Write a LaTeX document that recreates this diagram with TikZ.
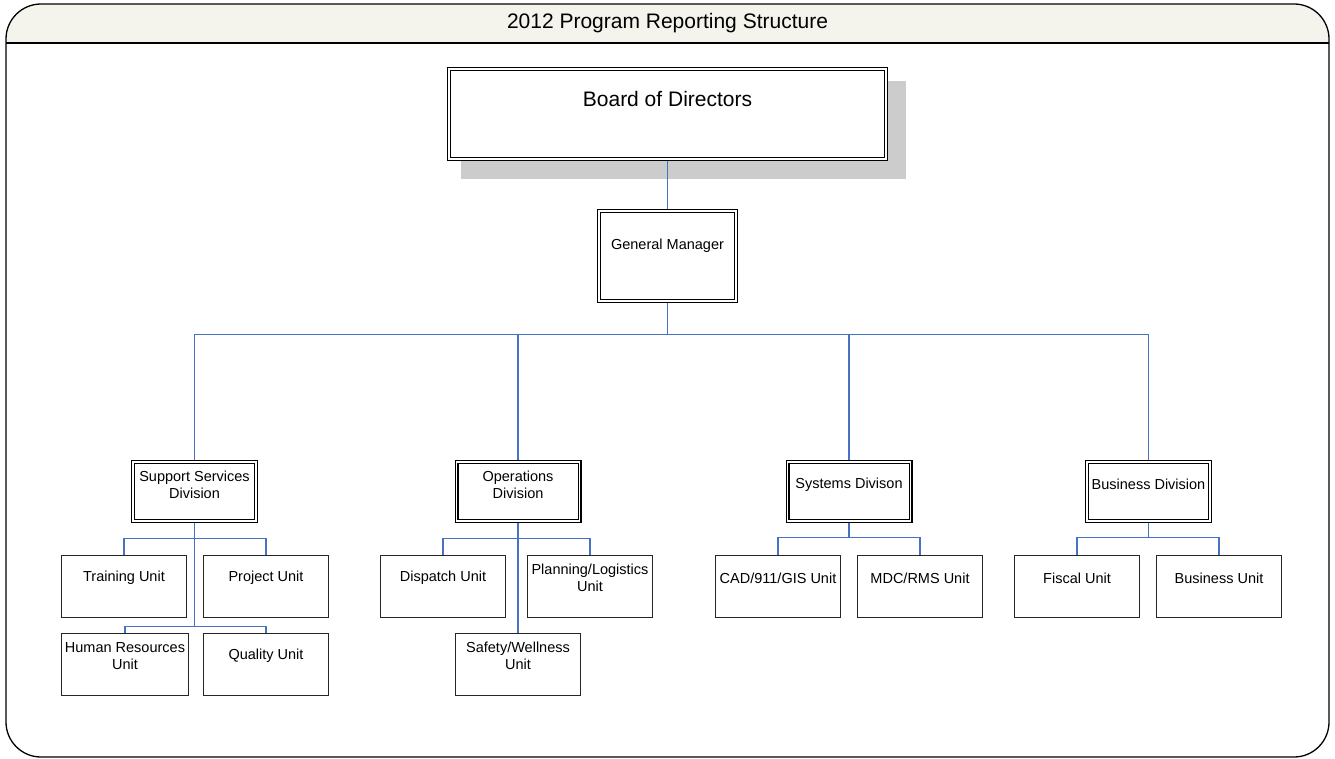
\documentclass[tikz,border=0pt]{standalone}
\usepackage{fontspec}
\setmainfont{Liberation Sans}
\usetikzlibrary{backgrounds}
\definecolor{linkblue}{RGB}{70,114,196}
\definecolor{headtint}{RGB}{244,244,237}
\definecolor{shadowgray}{RGB}{204,204,204}
\tikzset{
  dblbox/.style = {draw=black, double=white, double distance=1.8pt,
    line width=1.1pt, fill=white, inner sep=0pt},% double border
  divbox/.style = {dblbox, minimum width=123pt, minimum height=59pt},
  unitbox/.style = {draw=black!85, line width=1.3pt, fill=white,
    inner sep=0pt, minimum width=125pt, minimum height=62pt},
  boxtext/.style = {anchor=center, align=center,
    font=\fontsize{14.5}{17}\selectfont, yshift=-23pt},% text near the top
  link/.style = {draw=linkblue, line width=1.2pt}
}

\begin{document}
\begin{tikzpicture}[x=1pt,y=-1pt]
    \useasboundingbox (0,0) rectangle (1335,759);
    % frame with header
    \begin{scope}
      \clip[rounded corners=35pt] (6,4) rectangle (1329,757);
      \fill[headtint] (6,4) rectangle (1329,43);
    \end{scope}
    \draw[line width=1.3pt, rounded corners=35pt] (6,4) rectangle (1329,757);
    \draw[line width=1.3pt] (6,43) -- (1329,43);
    \node[font=\fontsize{21}{25}\selectfont] (title) at (667.5,23) {2012 Program Reporting Structure};

    % top levels
    \node[dblbox, minimum width=437pt, minimum height=90pt,
      label={[boxtext, font=\fontsize{21}{25}\selectfont, yshift=-8pt]north:Board of Directors}] (board) at (667.5,114) {};
    \node[dblbox, minimum width=137pt, minimum height=90pt,
      label={[boxtext, yshift=-12pt]north:General Manager}] (gm) at (667.5,256) {};

    % divisions
    \node[divbox, label={[boxtext]north:{Support Services\\Division}}] (supp) at (194.5,491.5) {};
    \node[divbox, label={[boxtext]north:{Operations\\Division}}] (oper) at (518,491.5) {};
    \node[divbox, label={[boxtext]north:Systems Divison}] (syst) at (849,491.5) {};
    \node[divbox, label={[boxtext]north:Business Division}] (busi) at (1148.5,491.5) {};

    % units
    \node[unitbox, label={[boxtext]north:Training Unit}] (train) at (124,586.5) {};
    \node[unitbox, label={[boxtext]north:Project Unit}] (proj) at (266,586.5) {};
    \node[unitbox, minimum width=127pt, label={[boxtext]north:{Human Resources\\Unit}}] (hr) at (125,664.5) {};
    \node[unitbox, label={[boxtext]north:Quality Unit}] (qual) at (266,664.5) {};
    \node[unitbox, label={[boxtext]north:Dispatch Unit}] (disp) at (443,586.5) {};
    \node[unitbox, label={[boxtext]north:{Planning/Logistics\\Unit}}] (plan) at (590,586.5) {};
    \node[unitbox, label={[boxtext]north:{Safety/Wellness\\Unit}}] (safe) at (518,664.5) {};
    \node[unitbox, label={[boxtext]north:CAD/911/GIS Unit}] (cad) at (778,586.5) {};
    \node[unitbox, label={[boxtext]north:MDC/RMS Unit}] (mdc) at (920,586.5) {};
    \node[unitbox, label={[boxtext]north:Fiscal Unit}] (fisc) at (1077,586.5) {};
    \node[unitbox, label={[boxtext]north:Business Unit}] (bunit) at (1219,586.5) {};

    % shadow and connectors behind the boxes
    \begin{scope}[on background layer]
      \fill[shadowgray] ([shift={(13,13)}]board.north west) rectangle ([shift={(19,19)}]board.south east);
      \draw[link] (board.south) -- (gm.north);
      \draw[link] (gm.south) -- ++(0,33) coordinate (bus);
      \draw[link] (supp.north) |- (bus) -| (busi.north);
      \draw[link] (oper.north) -- (oper.north |- bus);
      \draw[link] (syst.north) -- (syst.north |- bus);
      % support services
      \coordinate (suppk) at ([yshift=6pt]qual.north);
      \draw[link] (supp.south) -- (supp.south |- suppk);
      \draw[link] (train.north) -- ++(0,-16) -| (proj.north);
      \draw[link] (hr.north) |- (suppk) -- (qual.north);
      % operations
      \draw[link] (oper.south) -- (safe.north);
      \draw[link] (disp.north) -- ++(0,-16) -| (plan.north);
      % systems
      \draw[link] (syst.south) -- ++(0,16) coordinate (sysj);
      \draw[link] (cad.north) |- (sysj) -| (mdc.north);
      % business
      \draw[link] (busi.south) -- ++(0,16) coordinate (busj);
      \draw[link] (fisc.north) |- (busj) -| (bunit.north);
    \end{scope}
\end{tikzpicture}
\end{document}
